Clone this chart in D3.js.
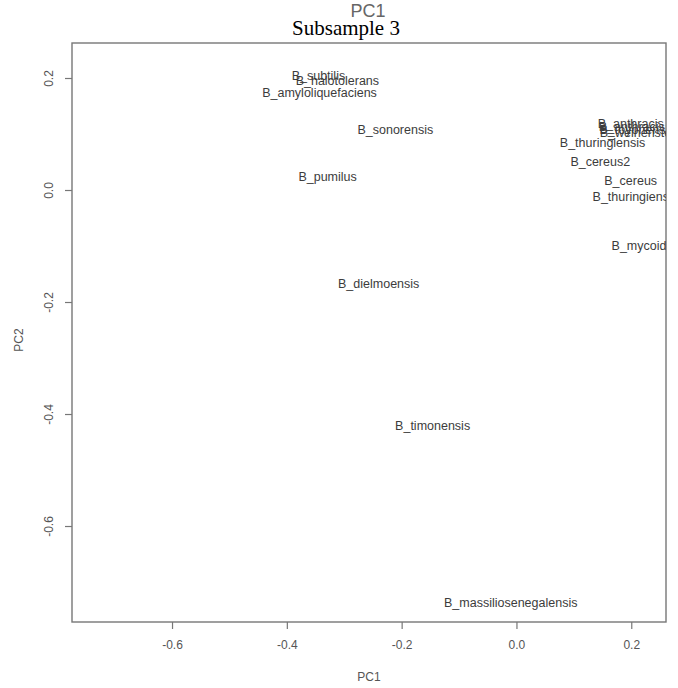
<!DOCTYPE html>
<html><head><meta charset="utf-8">
<script src="https://cdn.jsdelivr.net/npm/d3@7"></script>
<style>body{margin:0;background:#fff}svg{display:block}</style>
</head><body>
<script>
const labels = ["B_subtilis","B_halotolerans","B_amyloliquefaciens","B_sonorensis","B_pumilus",
  "B_dielmoensis","B_timonensis","B_massiliosenegalensis",
  "B_anthracis","B_anthracis","B_toyonensis","B_weihenstephanensis",
  "B_thuringiensis","B_cereus2","B_cereus","B_thuringiensis","B_mycoides"];
const pc1 = [-0.345,-0.312,-0.343,-0.211,-0.329,-0.240,-0.146,-0.010,
  0.199,0.201,0.210,0.257,0.150,0.146,0.199,0.207,0.225];
const pc2 = [0.205,0.196,0.173,0.107,0.023,-0.168,-0.421,-0.736,
  0.118,0.114,0.107,0.102,0.084,0.050,0.016,-0.011,-0.100];
const xTicks = [-0.6,-0.4,-0.2,0.0,0.2];
const yTicks = [0.2,0.0,-0.2,-0.4,-0.6];

const W=678,H=688, L=72,R=666,T=43,B=622;
const svg=d3.select("body").append("svg").attr("width",W).attr("height",H);
const x=d3.scaleLinear().domain([-0.7725,0.2605]).range([73,666]);
const y=d3.scaleLinear().domain([-0.7714,0.2625]).range([B,T]);
const fmt=v=>d3.format(".1f")(v).replace("−","-");
const font="Liberation Sans, Arial, sans-serif";
const gray="#555";

// top titles
svg.append("text").attr("x",368).attr("y",17).attr("text-anchor","middle")
  .attr("font-family",font).attr("font-size",18).attr("fill","#666").text("PC1");
svg.append("text").attr("x",346).attr("y",35).attr("text-anchor","middle")
  .attr("font-family","Liberation Serif, Times New Roman, serif").attr("font-size",21).attr("fill","#000").text("Subsample 3");

// axes
const gx=svg.append("g").attr("transform",`translate(0,${B})`)
  .call(d3.axisBottom(x).tickValues(xTicks).tickFormat(fmt).tickSize(7).tickPadding(11));
const gy=svg.append("g").attr("transform",`translate(${L},0)`)
  .call(d3.axisLeft(y).tickValues(yTicks).tickFormat(fmt).tickSize(7));
[gx,gy].forEach(g=>{
  g.select(".domain").remove();
  g.selectAll("line").attr("stroke","#777").attr("stroke-width",1.2);
  g.selectAll("text").attr("font-family",font).attr("font-size",12).attr("fill",gray);
});
gy.selectAll("text").attr("x",0).attr("dy",0).attr("y",0)
  .attr("text-anchor","middle").attr("transform","translate(-19,0) rotate(-90)");

// box
svg.append("rect").attr("x",L).attr("y",T).attr("width",R-L).attr("height",B-T)
  .attr("fill","none").attr("stroke","#777").attr("stroke-width",1.4);

// axis titles
svg.append("text").attr("x",369).attr("y",681).attr("text-anchor","middle")
  .attr("font-family",font).attr("font-size",12).attr("fill",gray).text("PC1");
svg.append("text").attr("transform",`translate(23,340) rotate(-90)`).attr("text-anchor","middle")
  .attr("font-family",font).attr("font-size",12).attr("fill",gray).text("PC2");

// labels
svg.append("clipPath").attr("id","clip").append("rect")
  .attr("x",L).attr("y",T).attr("width",R-L).attr("height",B-T);
svg.append("g").attr("clip-path","url(#clip)").selectAll("text")
  .data(labels.map((l,i)=>({l,x:pc1[i],y:pc2[i]}))).join("text")
  .attr("x",d=>x(d.x)).attr("y",d=>y(d.y)).attr("dy","0.35em")
  .attr("text-anchor","middle").attr("font-family",font).attr("font-size",12.5)
  .attr("fill","#3c3c3c").text(d=>d.l);
</script>
</body></html>
